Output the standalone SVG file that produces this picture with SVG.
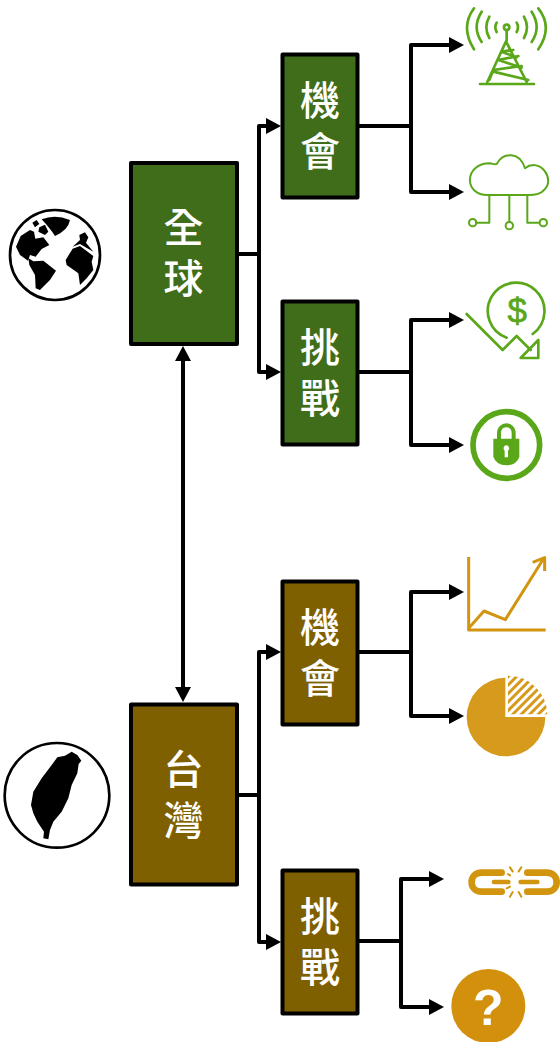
<svg xmlns="http://www.w3.org/2000/svg" width="560" height="1042" viewBox="0 0 560 1042">
<style>
.g{fill:#406d1a;stroke:#000;stroke-width:4;stroke-linejoin:round}
.b{fill:#7f6000;stroke:#000;stroke-width:4;stroke-linejoin:round}
.t{fill:#fff;font-family:"Liberation Sans","Noto Sans CJK TC","Noto Sans CJK SC",sans-serif;font-size:40px;font-weight:500;text-anchor:middle}
.c{fill:none;stroke:#000;stroke-width:4;stroke-linejoin:round}
.ig{fill:none;stroke:#5aa71a;stroke-linecap:round;stroke-linejoin:round}
.io{fill:none;stroke:#d2950f;stroke-linejoin:round}
</style>
<defs>
<marker id="a" markerUnits="userSpaceOnUse" markerWidth="16" markerHeight="16" refX="5" refY="8" orient="auto-start-reverse"><path d="M0 0L15 8L0 16Z" fill="#000"/></marker>
<pattern id="h" patternUnits="userSpaceOnUse" width="18" height="18" patternTransform="rotate(45)"><rect width="18" height="18" fill="#fff"/><rect width="9" height="18" fill="#d69a1c"/></pattern>
</defs>
<g id="connectors">
<path class="c" d="M183 356V692" marker-start="url(#a)" marker-end="url(#a)"/>
<path class="c" d="M238 254H259"/><path class="c" d="M271 126H259V372H271" marker-end="url(#a)"/>
<path class="c" d="M259 126H271" marker-end="url(#a)"/>
<path class="c" d="M359 126H411"/><path class="c" d="M454 192H411V45H454" marker-end="url(#a)"/><path class="c" d="M411 192H454" marker-end="url(#a)"/>
<path class="c" d="M359 372H411"/><path class="c" d="M454 445H411V320H454" marker-end="url(#a)"/><path class="c" d="M411 445H454" marker-end="url(#a)"/>
<path class="c" d="M238 795H259"/><path class="c" d="M271 652H259V942H271" marker-end="url(#a)"/><path class="c" d="M259 652H271" marker-end="url(#a)"/>
<path class="c" d="M359 652H411"/><path class="c" d="M454 592H411V716H454" marker-end="url(#a)"/><path class="c" d="M411 592H454" marker-end="url(#a)"/>
<path class="c" d="M359 941H401"/><path class="c" d="M434 879H401V1007H434" marker-end="url(#a)"/><path class="c" d="M401 879H434" marker-end="url(#a)"/>
</g>
<g id="global"><rect class="g" x="131" y="163" width="106" height="181"/><text class="t"><tspan x="183.500" y="242">全</tspan><tspan x="183.500" y="293">球</tspan></text></g>
<g id="taiwan"><rect class="b" x="131" y="704.500" width="106" height="180"/><text class="t"><tspan x="183.500" y="784">台</tspan><tspan x="183.500" y="835">灣</tspan></text></g>
<g id="g-opp"><rect class="g" x="282.500" y="54.500" width="75" height="143"/><text class="t"><tspan x="320" y="115">機</tspan><tspan x="320" y="166">會</tspan></text></g>
<g id="g-chal"><rect class="g" x="282.500" y="301.500" width="75" height="143"/><text class="t"><tspan x="320" y="362">挑</tspan><tspan x="320" y="413">戰</tspan></text></g>
<g id="t-opp"><rect class="b" x="282.500" y="581.500" width="75" height="143"/><text class="t"><tspan x="320" y="642">機</tspan><tspan x="320" y="693">會</tspan></text></g>
<g id="t-chal"><rect class="b" x="282.500" y="870.500" width="75" height="143"/><text class="t"><tspan x="320" y="931">挑</tspan><tspan x="320" y="982">戰</tspan></text></g>
<g id="globe-icon" transform="translate(0,150) scale(.3333)">
<circle cx="165" cy="315" r="135" fill="#fff" stroke="#000" stroke-width="8"/>
<path d="M125 208Q165 192 210 210Q205 240 165 258Q150 235 125 208ZM97 218L110 210L118 222L105 232ZM118 232L135 224L145 245L135 255L115 245Z" fill="#000"/>
<path d="M48 290L62 258L90 240L102 245L106 266L130 262L148 285L125 297L107 320L90 315L84 332L60 315Z" fill="#000"/>
<path d="M85 324L100 334L130 332L168 362L150 390L120 420L107 415L105 375L88 345Z" fill="#000"/>
<path d="M218 296L240 288L280 318L275 335L280 360L260 385L240 405L235 370L200 345L197 330ZM218 290L240 270L238 255L255 247L265 262L258 278L280 305L240 282Z" fill="#000"/>
</g>
<g id="taiwan-icon" transform="translate(0,690) scale(.3333)">
<circle cx="171" cy="316" r="157" fill="#fff" stroke="#000" stroke-width="8"/>
<path d="M215 185L232 195L244 212L236 222L232 250L215 285L205 325L185 365L160 395L150 420L145 448L130 445L132 425L112 395L100 370L93 345L100 305L125 265L150 232L172 202L195 197Z" fill="#000"/>
</g>
<g id="tower-icon" transform="translate(400,0) scale(.3333)">
<g class="ig" style="stroke-width:8">
<circle cx="320" cy="82" r="8"/><path d="M320 92V122M240 252H402M262 246L318 124L380 246M305 155L340 150M295 180L355 168M280 210L365 198M268 240L280 210M385 240L280 215M295 180L365 203M305 155L350 172"/>
<path d="M290 68Q282 82 290 96M350 68Q358 82 350 96M268 50Q250 82 268 114M372 50Q390 82 372 114M245 35Q215 82 245 126M395 35Q425 82 395 126M222 25Q180 82 222 148M415 25Q460 82 415 148"/>
</g></g>
<g id="cloud-icon" transform="translate(400,0) scale(.3333)">
<g class="ig" style="stroke-width:6"><path d="M268 585C190 590 190 490 270 490C280 492 285 495 290 492C310 455 360 455 375 505C420 470 470 540 430 572C420 585 400 585 385 585Z"/><path d="M268 585V668H228M328 585V665M382 585V668H418"/><circle cx="218" cy="668" r="11"/><circle cx="328" cy="677" r="11"/><circle cx="430" cy="668" r="11"/></g></g>
<g id="dollar-icon" transform="translate(400,270) scale(.3333)">
<g class="ig" style="stroke-width:8"><path d="M320 203A85 85 0 1 1 398 192"/><path d="M200 132L308 240L350 198L392 240"/><path d="M415 210V264H362Z"/></g>
<text x="352" y="160" font-family="Liberation Sans,sans-serif" font-size="105" fill="#5aa71a" stroke="#5aa71a" stroke-width="2" text-anchor="middle">$</text></g>
<g id="lock-icon" transform="translate(400,270) scale(.3333)">
<circle cx="319" cy="525" r="100" fill="#fff" stroke="#5aa71a" stroke-width="17"/>
<path d="M297 510V490C297 458 341 458 341 490V510" fill="none" stroke="#5aa71a" stroke-width="12"/>
<path d="M280 506H358V560Q350 585 319 586Q288 585 280 560Z" fill="#5aa71a"/>
<path d="M319 526a9 9 0 0 1 5 16V562H314V542A9 9 0 0 1 319 526Z" fill="#fff"/></g>
<g id="chart-icon" transform="translate(400,545) scale(.3333)">
<g class="io" style="stroke-width:9"><path d="M206 36V255H437"/><path d="M206 250L252 198L316 224L430 42"/><path d="M398 52L434 38L434 78"/></g></g>
<g id="pie-icon" transform="translate(400,545) scale(.3333)">
<path d="M316 398V516H436A118 118 0 1 1 316 398Z" fill="#d69a1c"/>
<path d="M324 392A118 118 0 0 1 442 508H324Z" fill="url(#h)"/></g>
<g id="link-icon" transform="translate(390,850) scale(.3333)">
<g fill="none" stroke="#d2950f" stroke-width="20" stroke-linecap="round"><path d="M335 68H275C235 68 235 125 275 125H335"/><path d="M412 68H470C510 68 510 125 470 125H412"/><path style="stroke-width:14" d="M312 96H355M392 96H442"/><path style="stroke-width:6" d="M360 52L368 64M394 52L386 64M354 72L360 76M360 140L368 126M394 140L386 126M350 115L360 110"/></g></g>
<g id="question-icon" transform="translate(390,850) scale(.3333)">
<circle cx="295" cy="468" r="111" fill="#d2900c"/>
<text x="295" y="526" font-family="Liberation Sans,sans-serif" font-size="150" font-weight="700" fill="#fff" text-anchor="middle">?</text></g>
</svg>
